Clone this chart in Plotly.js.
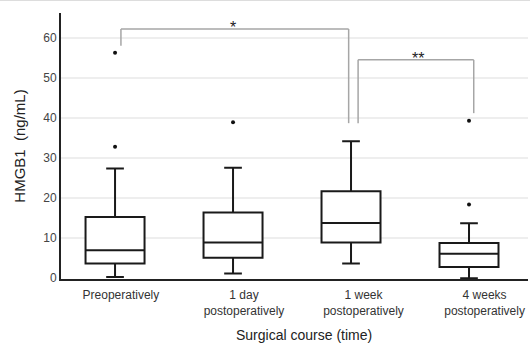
<!DOCTYPE html>
<html>
<head>
<meta charset="utf-8">
<script src="https://cdn.plot.ly/plotly-3.0.1.min.js"></script>
<style>html,body{margin:0;padding:0;background:#fff;}#chart{width:530px;height:350px;}</style>
</head>
<body>
<div id="chart"></div>
<script>
// ---- data ----
const categories = ['Preoperatively', '1 day<br>postoperatively', '1 week<br>postoperatively', '4 weeks<br>postoperatively'];
const lowerWhisker = [0.3, 1.2, 3.7, 0.0];
const q1 = [3.7, 5.1, 8.9, 2.8];
const median = [7.0, 8.9, 13.8, 6.1];
const q3 = [15.3, 16.4, 21.7, 8.8];
const upperWhisker = [27.4, 27.6, 34.2, 13.7];
const outlierGroup = [0, 0, 1, 3, 3];
const outlierValues = [32.8, 56.3, 38.9, 18.4, 39.3];
const yTicks = [0, 10, 20, 30, 40, 50, 60];
// significance brackets
const bracketFrom = [0.05, 2.06];
const bracketTo = [1.98, 3.04];
const bracketTop = [62.2, 54.5];
const bracketLeftEnd = [58.0, 38.7];
const bracketRightEnd = [38.7, 41.2];
const bracketLabel = ['*', '**'];
const bracketLabelX = [1.0, 2.57];

const pos = categories.map((c, i) => i);

const boxTrace = {
  type: 'box',
  x: pos,
  q1: q1, median: median, q3: q3,
  lowerfence: lowerWhisker, upperfence: upperWhisker,
  boxpoints: false,
  width: 0.5,
  whiskerwidth: 0.3,
  fillcolor: '#ffffff',
  line: {color: '#1a1a1a', width: 2},
  hoverinfo: 'skip',
  showlegend: false
};
const outTrace = {
  type: 'scatter', mode: 'markers',
  x: outlierGroup, y: outlierValues,
  marker: {color: '#111', size: 4},
  showlegend: false, hoverinfo: 'skip'
};

const shapes = [];
const annotations = [];
for (let i = 0; i < bracketFrom.length; i++) {
  const lc = {color: '#a6a6a6', width: 1.5};
  shapes.push({type: 'line', xref: 'x', yref: 'y', x0: bracketFrom[i], x1: bracketTo[i], y0: bracketTop[i], y1: bracketTop[i], line: lc});
  shapes.push({type: 'line', xref: 'x', yref: 'y', x0: bracketFrom[i], x1: bracketFrom[i], y0: bracketTop[i], y1: bracketLeftEnd[i], line: lc});
  shapes.push({type: 'line', xref: 'x', yref: 'y', x0: bracketTo[i], x1: bracketTo[i], y0: bracketTop[i], y1: bracketRightEnd[i], line: lc});
  annotations.push({xref: 'x', yref: 'y', x: bracketLabelX[i], y: bracketTop[i], text: bracketLabel[i],
    showarrow: false, yanchor: 'bottom', yshift: -9, font: {family: 'Liberation Sans, Arial, sans-serif', size: 16, color: '#222'}});
}
// top border line of the figure
shapes.push({type: 'line', xref: 'paper', yref: 'paper', x0: -0.2, x1: 1.1, y0: 1.047, y1: 1.047, line: {color: '#dddddd', width: 1}});

annotations.push({xref: 'paper', yref: 'paper', x: 0.521, y: -0.21, xanchor: 'center', yanchor: 'middle',
  text: 'Surgical course (time)', showarrow: false,
  font: {family: 'Liberation Sans, Arial, sans-serif', size: 14, color: '#222'}});

const layout = {
  width: 530, height: 350,
  margin: {l: 61, r: 2, t: 13, b: 71},
  paper_bgcolor: '#fff', plot_bgcolor: '#fff',
  font: {family: 'Liberation Sans, Arial, sans-serif', color: '#333'},
  xaxis: {
    range: [-0.458, 3.5],
    tickmode: 'array',
    tickvals: [0.05, 1.093, 2.106, 3.132],
    ticktext: categories,
    tickfont: {size: 12, color: '#333'},
    ticklabelstandoff: 4,
    showgrid: false, zeroline: false,
    showline: true, linecolor: '#222', linewidth: 2,
    ticks: '', fixedrange: true
  },
  yaxis: {
    range: [-0.2, 66.2],
    tickmode: 'array', tickvals: yTicks,
    tickfont: {size: 12, color: '#444'},
    showgrid: true, gridcolor: '#eeeeee', gridwidth: 1.5,
    zeroline: false,
    showline: true, linecolor: '#222', linewidth: 2,
    ticks: '',
    title: {text: 'HMGB1\u00a0\u00a0(ng/mL)', font: {size: 15, color: '#222'}, standoff: 14}
  },
  shapes: shapes,
  annotations: annotations
};

Plotly.newPlot('chart', [boxTrace, outTrace], layout, {displayModeBar: false, staticPlot: true});
</script>
</body>
</html>
